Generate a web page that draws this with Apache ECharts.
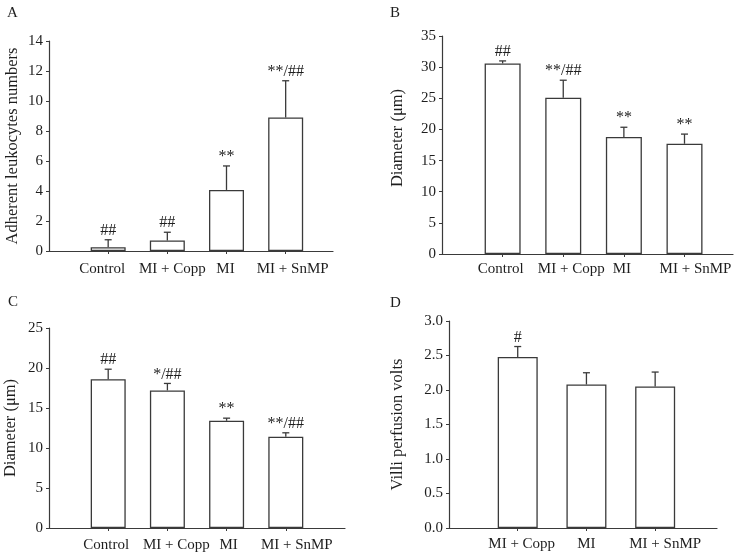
<!DOCTYPE html>
<html>
<head>
<meta charset="utf-8">
<script src="https://cdn.jsdelivr.net/npm/echarts@6/dist/echarts.min.js"></script>
<style>html,body{margin:0;padding:0;background:#fff}#c{width:735px;height:556px}</style>
</head>
<body>
<div id="c"></div>
<script>
// ---- Data ----
const categoriesA = ['Control', 'MI + Copp', 'MI', 'MI + SnMP'];
const valuesA = [0.25, 0.7, 4.07, 8.9];
const errorsA = [0.5, 0.55, 1.6, 2.45];
const marksA = ['##', '##', '**', '**/##'];

const categoriesB = ['Control', 'MI + Copp', 'MI', 'MI + SnMP'];
const valuesB = [30.6, 25.1, 18.8, 17.7];
const errorsB = [0.4, 2.8, 1.55, 1.55];
const marksB = ['##', '**/##', '**', '**'];

const categoriesC = ['Control', 'MI + Copp', 'MI', 'MI + SnMP'];
const valuesC = [18.6, 17.2, 13.4, 11.4];
const errorsC = [1.25, 0.87, 0.33, 0.5];
const marksC = ['##', '*/##', '**', '**/##'];

const categoriesD = ['MI + Copp', 'MI', 'MI + SnMP'];
const valuesD = [2.48, 2.08, 2.05];
const errorsD = [0.15, 0.17, 0.21];
const marksD = ['#', '', ''];

const yTicksA = {max: 14, interval: 2};
const yTicksB = {max: 35, interval: 5};
const yTicksC = {max: 25, interval: 5};
const yTicksD = {max: 3.0, interval: 0.5};

// ---- Styles ----
const FONT = "'Liberation Serif', 'DejaVu Serif', serif";
const LINE = '#3a3a3a';
const TEXT = '#1e1e1e';

// layout per panel (labelShift: horizontal label offsets in px, as in the original typesetting)
const panels = [
  {cats: categoriesA, vals: valuesA, errs: errorsA, marks: marksA, yt: yTicksA, name: 'Adherent leukocytes numbers',
   grid: {left: 49, top: 41, width: 284, height: 210}, xMax: 3.8, nameGap: 28, barWidth: 35, xMargin: 11,
   labelShift: [-6, 5, -1, 7], namePad: [0, 0, 0, 0], fmt: v => v},
  {cats: categoriesB, vals: valuesB, errs: errorsB, marks: marksB, yt: yTicksB, name: 'Diameter (\u03bcm)',
   grid: {left: 442, top: 36, width: 291, height: 218}, xMax: 3.8, nameGap: 36, barWidth: 36, xMargin: 8,
   labelShift: [-2, 8, -2, 11], namePad: [0, 0, 0, 14], fmt: v => v},
  {cats: categoriesC, vals: valuesC, errs: errorsC, marks: marksC, yt: yTicksC, name: 'Diameter (\u03bcm)',
   grid: {left: 49, top: 328, width: 296, height: 200}, xMax: 4.0, nameGap: 30, barWidth: 35, xMargin: 10,
   labelShift: [-2, 9, 2, 11], namePad: [0, 0, 0, 0], fmt: v => v},
  {cats: categoriesD, vals: valuesD, errs: errorsD, marks: marksD, yt: yTicksD, name: 'Villi perfusion volts',
   grid: {left: 449, top: 321, width: 268, height: 207}, xMax: 2.9, nameGap: 43, barWidth: 40, xMargin: 9,
   labelShift: [4, 0, 10], namePad: [0, 0, 0, 0], fmt: v => Number(v).toFixed(1)}
];

const grids = [], xAxes = [], yAxes = [], series = [];
panels.forEach((p, i) => {
  grids.push(Object.assign({containLabel: false}, p.grid));
  const idxs = p.cats.map((c, k) => k);
  const slot = p.grid.width / (p.xMax + 1);
  const labelVals = idxs.map(k => k + p.labelShift[k] / slot);
  xAxes.push({
    type: 'value', gridIndex: i, min: -1, max: p.xMax, interval: 1,
    splitLine: {show: false},
    axisLine: {show: true, onZero: false, lineStyle: {color: LINE, width: 1.2}},
    axisTick: {show: true, customValues: idxs, length: 3, lineStyle: {color: LINE}},
    axisLabel: {show: true, customValues: labelVals, margin: p.xMargin, color: TEXT, fontFamily: FONT, fontSize: 15,
      formatter: v => (p.cats[Math.round(v)] !== undefined ? p.cats[Math.round(v)] : '')}
  });
  yAxes.push({
    type: 'value', gridIndex: i, min: 0, max: p.yt.max, interval: p.yt.interval,
    splitLine: {show: false},
    axisLine: {show: true, onZero: false, lineStyle: {color: LINE, width: 1.2}},
    axisTick: {show: true, length: 3, lineStyle: {color: LINE}},
    axisLabel: {margin: 6, color: TEXT, fontFamily: FONT, fontSize: 15, formatter: p.fmt},
    name: p.name, nameLocation: 'middle', nameGap: p.nameGap,
    nameTextStyle: {color: TEXT, fontFamily: FONT, fontSize: 16.5, padding: p.namePad}
  });
  series.push({
    type: 'bar', xAxisIndex: i, yAxisIndex: i, barWidth: p.barWidth,
    data: p.vals.map((v, k) => [k, v]),
    itemStyle: {color: '#ffffff', borderColor: LINE, borderWidth: 1.3},
    emphasis: {disabled: true}, animation: false
  });
  series.push({
    type: 'custom', xAxisIndex: i, yAxisIndex: i, z: 5, animation: false,
    data: p.vals.map((v, k) => [k, v, p.errs[k]]),
    renderItem: (params, api) => {
      const x = api.value(0), y = api.value(1), e = api.value(2);
      const p0 = api.coord([x, y]);
      const p1 = api.coord([x, y + e]);
      return {
        type: 'group',
        children: [
          {type: 'line', shape: {x1: p0[0], y1: p0[1], x2: p1[0], y2: p1[1]}, style: {stroke: LINE, lineWidth: 1.3}},
          {type: 'line', shape: {x1: p1[0] - 3.5, y1: p1[1], x2: p1[0] + 3.5, y2: p1[1]}, style: {stroke: LINE, lineWidth: 1.3}},
          {type: 'text', style: {text: p.marks[params.dataIndex], x: p1[0], y: p1[1] - 1,
            align: 'center', verticalAlign: 'bottom', fill: TEXT, fontFamily: FONT, fontSize: 16}}
        ]
      };
    }
  });
});

const letters = [
  {text: 'A', left: 7, top: 6},
  {text: 'B', left: 390, top: 6},
  {text: 'C', left: 8, top: 295},
  {text: 'D', left: 390, top: 296}
];

const chart = echarts.init(document.getElementById('c'), null, {renderer: 'canvas'});
chart.setOption({
  backgroundColor: '#ffffff',
  animation: false,
  title: letters.map(l => ({text: l.text, left: l.left, top: l.top, padding: 0,
    textStyle: {fontFamily: FONT, fontSize: 15, fontWeight: 'normal', color: TEXT}})),
  grid: grids,
  xAxis: xAxes,
  yAxis: yAxes,
  series: series
});
</script>
</body>
</html>
